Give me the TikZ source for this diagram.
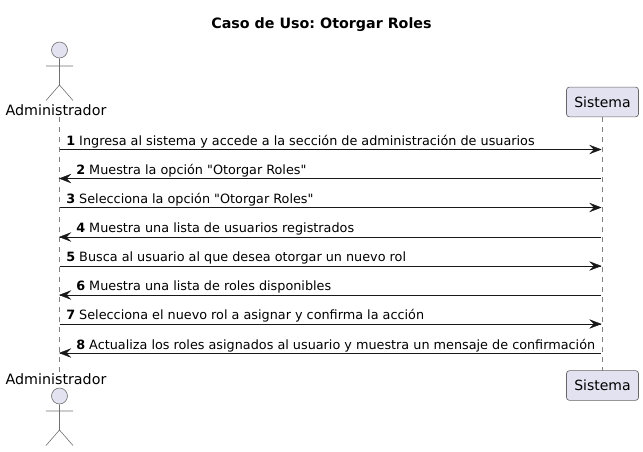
\documentclass[tikz,border=0pt]{standalone}
\usepackage{fontspec}
\newfontfamily\plainfam{DejaVu Sans}
\setmainfont{DejaVu Sans}
\definecolor{pfill}{HTML}{E2E2F0}
\definecolor{pline}{HTML}{181818}
\definecolor{lline}{HTML}{808080}
\definecolor{aline}{HTML}{707070}
\definecolor{bline}{HTML}{666666}
\tikzset{
  partbox/.style={draw=bline,fill=pfill,rounded corners=2.2pt,line width=0.5pt,minimum width=54pt,minimum height=22.3pt,inner sep=0pt,font=\plainfam\fontsize{10.5}{12}\selectfont,text=black},
  actorname/.style={inner sep=0pt,font=\plainfam\fontsize{10.7}{12}\selectfont,text=black,anchor=base},
  lifeline/.style={draw=lline,line width=0.45pt,dash pattern=on 3.75pt off 3.75pt},
  actorline/.style={draw=aline,line width=0.45pt},
  actorhead/.style={circle,draw=aline,fill=pfill,line width=0.45pt,minimum size=12pt,inner sep=0pt},
  msgtext/.style={inner sep=0pt,anchor=base west,font=\plainfam\frenchspacing\fontsize{9.6}{12}\selectfont,text=black},
  msgline/.style={draw=pline,line width=0.7pt},
  tiphead/.style={fill=pline,draw=pline,line width=0.3pt}
}
\newcommand{\msgarrow}[3]{%
  \draw[msgline] (#1) -- (#2);
  \fill[tiphead] (#2) -- ++(#3*-11,-4.2) -- ++(#3*4,4.2) -- ++(#3*-4,4.2) -- cycle;
}
\begin{document}
\begin{tikzpicture}[x=0.75pt,y=-0.75pt]
\useasboundingbox (0,0) rectangle (643,451);
\node[inner sep=0pt,anchor=base,font=\plainfam\frenchspacing\fontsize{10.7}{12}\selectfont\bfseries] (title) at (321.5,28) {Caso de Uso: Otorgar Roles};

% lifelines
\coordinate (Ltop) at (59.5,117); \coordinate (Lbot) at (59.5,372);
\coordinate (Rtop) at (602.5,117); \coordinate (Rbot) at (602.5,371);
\draw[lifeline] (Ltop) -- (Lbot);
\draw[lifeline] (Rtop) -- (Rbot);

% top actor
\node[actorhead] (headA) at (59.5,50) {};
\coordinate (hipA) at (59.5,85);
\coordinate (armLA) at (46,66); \coordinate (armRA) at (73,66);
\coordinate (legLA) at (46,100.5); \coordinate (legRA) at (73,100.5);
\draw[actorline] (headA) -- (hipA) (armLA) -- (armRA) (legLA) -- (hipA) -- (legRA);
\node[actorname] (adminA) at (56,115) {Administrador};

% bottom actor
\node[actorname] (adminB) at (56,384) {Administrador};
\node[actorhead] (headB) at (59.5,396) {};
\coordinate (hipB) at (59.5,430);
\coordinate (armLB) at (46,411); \coordinate (armRB) at (73,411);
\coordinate (legLB) at (46,445.5); \coordinate (legRB) at (73,445.5);
\draw[actorline] (headB) -- (hipB) (armLB) -- (armRB) (legLB) -- (hipB) -- (legRB);

% Sistema boxes
\node[partbox] (sysA) at (602.5,102) {Sistema};
\node[partbox] (sysB) at (602.5,385.5) {Sistema};

% messages
\foreach \n/\y in {1/149.5,2/178.5,3/207.5,4/237,5/266,6/295,7/324,8/353}{
  \coordinate (L\n) at (59.5,\y);
  \coordinate (R\n) at (601,\y);
}
\msgarrow{L1}{R1}{1}
\msgarrow{R2}{L2}{-1}
\msgarrow{L3}{R3}{1}
\msgarrow{R4}{L4}{-1}
\msgarrow{L5}{R5}{1}
\msgarrow{R6}{L6}{-1}
\msgarrow{L7}{R7}{1}
\msgarrow{R8}{L8}{-1}

\node[msgtext] (m1) at (66,145) {\textbf{1} Ingresa al sistema y accede a la sección de administración de usuarios};
\node[msgtext] (m2) at (76,174) {\textbf{2} Muestra la opción "Otorgar Roles"};
\node[msgtext] (m3) at (66,203) {\textbf{3} Selecciona la opción "Otorgar Roles"};
\node[msgtext] (m4) at (76,232) {\textbf{4} Muestra una lista de usuarios registrados};
\node[msgtext] (m5) at (66,261) {\textbf{5} Busca al usuario al que desea otorgar un nuevo rol};
\node[msgtext] (m6) at (76,290) {\textbf{6} Muestra una lista de roles disponibles};
\node[msgtext] (m7) at (66,319) {\textbf{7} Selecciona el nuevo rol a asignar y confirma la acción};
\node[msgtext] (m8) at (76,349) {\textbf{8} Actualiza los roles asignados al usuario y muestra un mensaje de confirmación};
\end{tikzpicture}
\end{document}
